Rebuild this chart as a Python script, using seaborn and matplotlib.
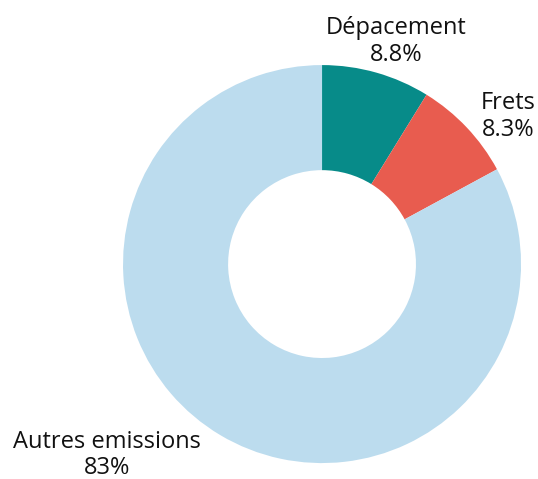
import matplotlib
matplotlib.use("Agg")
import matplotlib.pyplot as plt
import seaborn as sns

# data
labels = ["Dépacement", "Frets", "Autres emissions"]
shares = [8.8, 8.3, 82.9]
share_text = ["8.8%", "8.3%", "83%"]
colors = ["#078b89", "#e85c4f", "#bcdcee"]

# label anchor positions (data units, radius = 1)
label_pos = [(0.372, 1.12), (0.935, 0.74), (-1.08, -0.96)]

sns.set_theme(style="white")
plt.rcParams["font.family"] = ["Open Sans", "DejaVu Sans"]

fig = plt.figure(figsize=(5.38, 4.79), dpi=100)
ax = fig.add_axes([0, 0, 1, 1])

ax.pie(shares, colors=colors, startangle=90, counterclock=False,
       radius=1.0, wedgeprops=dict(width=0.528, linewidth=0))

for (x, y), name, pct in zip(label_pos, labels, share_text):
    ax.text(x, y, f"{name}\n{pct}", ha="center", va="center",
            fontsize=17, color="#111111", linespacing=1.15)

ax.set_xlim(-1.618, 1.085)
ax.set_ylim(-1.080, 1.327)
ax.set_aspect("equal")
ax.axis("off")

fig.savefig("out.png", dpi=100)
